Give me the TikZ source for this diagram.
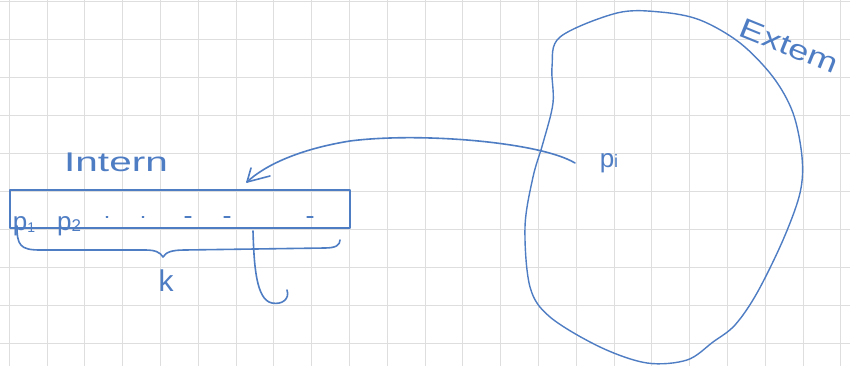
\documentclass[tikz,border=0pt]{standalone}
\usepackage{fontspec}
\usepackage{graphicx}
\setmainfont{Liberation Sans}
\usetikzlibrary{arrows.meta}
\definecolor{ink}{HTML}{4F7DC4}
\definecolor{gridc}{HTML}{DEDEDE}
\tikzset{
  pen/.style={draw=ink, line width=1.6pt, line cap=round, line join=round},
  hand/.style={text=ink, inner sep=0pt},
  gridline/.style={draw=gridc, line width=1pt}
}
\begin{document}
\begin{tikzpicture}[x=1pt,y=-1pt]
\useasboundingbox (0,0) rectangle (850,366);
\fill[white] (0,0) rectangle (850,366);
% grid paper
\foreach \k in {0,...,22} {\draw[gridline] ({9.3+37.8*\k},0) -- ({9.3+37.8*\k},366);}
\foreach \k in {0,...,9} {\draw[gridline] (0,{2+37.9*\k}) -- (850,{2+37.9*\k});}

% intern buffer
\node[pen, line width=2pt, minimum width=340pt, minimum height=38pt, inner sep=0pt] (box) at (180,209) {};
\node[hand, font=\fontsize{27}{27}\selectfont] (intern) at (116,162) {\scalebox{1.5}[1]{Intern}};
\node[hand, font=\fontsize{26}{26}\selectfont] (p1) at (24,226) {p\raisebox{-2pt}{\fontsize{14}{14}\selectfont 1}};
\node[hand, font=\fontsize{26}{26}\selectfont] (p2) at (69,226) {p\raisebox{-1pt}{\fontsize{17}{17}\selectfont 2}};
\foreach \x/\w in {107/0.8,143/0.8,188/3,227/3,310/3}
  {\draw[pen, line width=1.2pt] (\x-\w,217) -- (\x+\w,217);}

% brace
\coordinate (bl) at (17,226);
\coordinate (br) at (340,240);
\coordinate (btip) at (163,257);
\draw[pen] (bl) .. controls (17,245) and (20,250) .. (40,250)
  -- (145,250) .. controls (155,250) and (160,252) .. (btip)
  .. controls (166,252) and (172,250) .. (185,250)
  -- (325,248) .. controls (336,248) and (340,245) .. (br);
\node[hand, font=\fontsize{30}{30}\selectfont] (k) at (166,281) {k};

% hook arrow down from buffer
\coordinate (hs) at (253,231);
\coordinate (he) at (287,290);
\draw[pen] (hs) .. controls (254,265) and (256,300) .. (272,303)
  .. controls (282,305) and (290,299) .. (he);

% extern region
\draw[pen, line width=1.4pt] plot[smooth cycle, tension=0.55] coordinates {
  (617,13) (560,37) (552,67) (553,103) (543,143) (533,177) (525,227)
  (530,287) (550,317) (600,347) (647,363) (687,360) (713,342) (735,325)
  (757,293) (783,240) (800,193) (802,157) (793,113) (773,77) (740,43)
  (700,20) (660,12)};
\node[hand, font=\fontsize{28}{28}\selectfont, rotate=-22] (extem) at (789,46) {\scalebox{1.3}[1]{Extem}};
\node[hand, font=\fontsize{26}{26}\selectfont] (pi) at (609,163) {p\raisebox{0pt}{\fontsize{18}{18}\selectfont i}};

% arrow from p_i into the buffer
\coordinate (ps) at (575,163);
\coordinate (tip) at (247,182);
\draw[pen] (ps) .. controls (540,142) and (420,132) .. (350,141)
  .. controls (300,149) and (265,165) .. (tip);
\draw[pen] (tip) -- (251,168);
\draw[pen] (tip) -- (270,176);
\end{tikzpicture}
\end{document}
